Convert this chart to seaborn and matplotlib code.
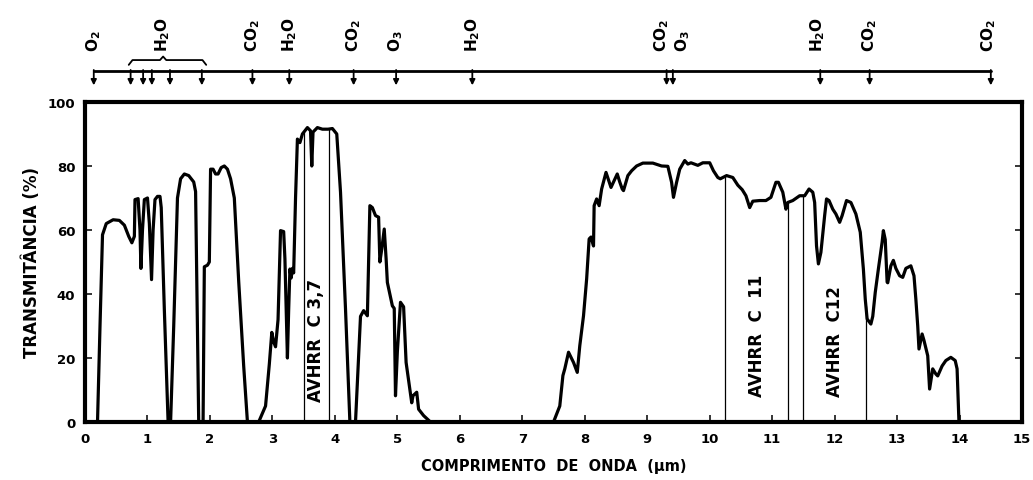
import numpy as np
import pandas as pd
import matplotlib
matplotlib.use("Agg")
import matplotlib.pyplot as plt
import seaborn as sns

# Atmospheric transmittance spectrum (wavelength in µm, transmittance in %)
wavelength_um = [
    0.00, 0.20, 0.24, 0.28, 0.34, 0.45, 0.55, 0.63, 0.70, 0.75, 0.79, 0.80,
    0.85, 0.88, 0.895, 0.92, 0.95, 1.00, 1.03, 1.065, 1.09, 1.12, 1.16, 1.20,
    1.22, 1.27, 1.33, 1.37, 1.42, 1.48, 1.53, 1.59, 1.66, 1.74, 1.77, 1.80,
    1.82, 1.89, 1.91, 1.96, 1.99, 2.01, 2.05, 2.09, 2.13, 2.18, 2.23, 2.28,
    2.33, 2.39, 2.46, 2.54, 2.60, 2.78, 2.89, 2.95, 2.99, 3.02, 3.05, 3.09,
    3.13, 3.18, 3.20, 3.24, 3.26, 3.28, 3.30, 3.32, 3.34, 3.37, 3.40, 3.44,
    3.48, 3.56, 3.61, 3.63, 3.65, 3.72, 3.80, 3.89, 3.96, 4.03, 4.09, 4.17,
    4.24, 4.33, 4.41, 4.46, 4.52, 4.56, 4.60, 4.65, 4.70, 4.72, 4.75, 4.79,
    4.82, 4.84, 4.92, 4.95, 4.97, 5.00, 5.05, 5.10, 5.14, 5.18, 5.23, 5.25,
    5.31, 5.34, 5.42, 5.53, 7.50, 7.60, 7.65, 7.68, 7.74, 7.82, 7.88, 7.92,
    7.98, 8.03, 8.07, 8.10, 8.14, 8.15, 8.19, 8.23, 8.27, 8.34, 8.42, 8.52,
    8.56, 8.60, 8.62, 8.69, 8.75, 8.83, 8.93, 9.09, 9.23, 9.33, 9.39, 9.42,
    9.47, 9.52, 9.60, 9.65, 9.70, 9.81, 9.89, 10.00, 10.06, 10.13, 10.17,
    10.27, 10.37, 10.45, 10.52, 10.58, 10.64, 10.69, 10.80, 10.90, 10.98,
    11.06, 11.10, 11.17, 11.22, 11.25, 11.33, 11.44, 11.52, 11.59, 11.65,
    11.68, 11.71, 11.74, 11.78, 11.84, 11.87, 11.91, 11.97, 12.02, 12.08,
    12.12, 12.19, 12.26, 12.34, 12.41, 12.46, 12.49, 12.52, 12.58, 12.61,
    12.65, 12.70, 12.76, 12.78, 12.81, 12.84, 12.85, 12.90, 12.94, 12.98,
    13.04, 13.09, 13.14, 13.22, 13.27, 13.30, 13.33, 13.35, 13.40, 13.43,
    13.49, 13.52, 13.57, 13.62, 13.65, 13.72, 13.78, 13.86, 13.93, 13.96,
    13.99, 15.00,
]
transmittance_pct = [
    0, 0, 30, 58.5, 62, 63.2, 63, 61.5, 58, 56, 58, 69.5,
    69.8, 60, 48, 60, 69.5, 70, 62, 44.5, 60, 69.5, 70.5, 70.5,
    67, 35, 0, 0, 30, 70, 76, 77.5, 77, 75, 72, 30,
    0, 0, 48.5, 49, 50, 79, 79, 77.5, 77.5, 79.5, 80, 79,
    76, 70, 44, 17.5, 0, 0, 5, 18, 28, 25, 23.5, 32,
    59.8, 59.5, 51, 20, 35, 47.8, 45, 48, 46.6, 70, 88.4, 87.3,
    90, 92, 91, 80, 90.6, 92, 91.5, 91.5, 91.7, 90, 71.8, 35.3,
    0, 0, 33, 34.8, 33.2, 67.6, 67, 64.5, 64, 50, 54, 60.3,
    51, 43.6, 36.3, 35.5, 8.2, 22, 37.4, 36, 18.6, 13, 6, 8.2,
    9.3, 4, 2, 0, 0, 5, 14.5, 16.6, 21.8, 18.6, 15.5, 23.8,
    33.2, 44.7, 57.2, 57.8, 55, 67.6, 69.7, 67.6, 72.8, 78, 73.3, 77.5,
    75, 72.8, 72.3, 77, 78.5, 80, 80.9, 80.9, 80, 79.9, 74.9, 70.2,
    74.9, 79, 81.7, 80.6, 81, 80.2, 81, 81, 78.5, 76.4, 76,
    77, 76.4, 74, 72.6, 70.7, 67, 69, 69.2, 69.2, 70.2,
    74.9, 74.9, 71.8, 66.5, 68.6, 69.2, 70.7, 70.7, 72.8, 71.8,
    68.6, 55, 49.4, 53, 64.5, 69.7, 69.2, 66.5, 65, 62.4,
    64.5, 69.2, 68.6, 65, 59.3, 47.8, 38.4, 32.2, 30.6, 33,
    40.5, 47.8, 56.2, 59.8, 57, 43.7, 43.5, 48.8, 50.5, 48,
    45.7, 45.2, 48, 48.8, 45.7, 38.4, 30, 22.8, 27.5, 25.5,
    20.7, 10.3, 16.6, 15, 14.4, 17.5, 19.2, 20.2, 19.2, 16.6,
    0, 0,
]

# AVHRR channel limits (µm) and their labels
avhrr_edges_um = [3.50, 3.91, 10.25, 11.25, 11.50, 12.50]
avhrr_labels = ["AVHRR  C 3,7", "AVHRR  C  11", "AVHRR  C12"]
avhrr_label_x = [3.70, 10.75, 12.00]
avhrr_label_y = [6.5, 8.0, 8.0]

# Absorption bands marked with arrows above the plot
absorber_x = [0.14, 0.73, 0.93, 1.07, 1.36, 1.87, 2.68, 3.27, 4.30, 4.98,
              6.20, 9.31, 9.41, 11.77, 12.56, 14.50]
gas_labels = [r"$\mathbf{O_2}$", r"$\mathbf{H_2O}$", r"$\mathbf{CO_2}$",
              r"$\mathbf{H_2O}$", r"$\mathbf{CO_2}$", r"$\mathbf{O_3}$",
              r"$\mathbf{H_2O}$", r"$\mathbf{CO_2}$", r"$\mathbf{O_3}$",
              r"$\mathbf{H_2O}$", r"$\mathbf{CO_2}$", r"$\mathbf{CO_2}$"]
gas_label_x = [0.14, 1.25, 2.68, 3.27, 4.30, 4.98, 6.20, 9.23, 9.57,
               11.72, 12.56, 14.47]

x_ticks = list(range(0, 16))
y_ticks = [0, 20, 40, 60, 80, 100]

sns.set_theme(style="ticks")
plt.rcParams["font.family"] = ["DejaVu Sans"]
plt.rcParams["font.weight"] = "bold"
plt.rcParams["text.color"] = "black"
plt.rcParams["axes.labelcolor"] = "black"

df = pd.DataFrame({"wl": wavelength_um, "t": transmittance_pct})

fig = plt.figure(figsize=(10.33, 4.81), dpi=100)
ax = fig.add_axes([0.0823, 0.1206, 0.9071, 0.6653])

sns.lineplot(data=df, x="wl", y="t", estimator=None, sort=False,
             color="black", lw=2.3, ax=ax, clip_on=False)

# Channel boundaries drawn up to the curve
tops = np.interp(avhrr_edges_um, wavelength_um, transmittance_pct)
ax.vlines(avhrr_edges_um, 0, tops, color="black", lw=0.9)
for lx, ly, txt in zip(avhrr_label_x, avhrr_label_y, avhrr_labels):
    ax.text(lx, ly, txt, rotation=90, ha="center", va="bottom",
            fontsize=12, fontweight="bold", color="black")

ax.set_xlim(0, 15)
ax.set_ylim(0, 100)
ax.set_xticks(x_ticks)
ax.set_yticks(y_ticks)
ax.tick_params(axis="both", direction="in", length=5, width=1.1,
               labelsize=9.5, colors="black")
ax.tick_params(axis="x", pad=7)
ax.tick_params(axis="y", pad=7, right=True)
for s in ax.spines.values():
    s.set_visible(True)
    s.set_linewidth(3)
    s.set_color("black")

ax.set_xlabel("COMPRIMENTO  DE  ONDA  (µm)", fontsize=10.5,
              fontweight="bold", color="black")
ax.set_ylabel("TRANSMITÂNCIA (%)", fontsize=12, fontweight="bold",
              color="black")
ax.xaxis.set_label_coords(0.5, -0.112)
ax.yaxis.set_label_coords(-0.047, 0.5)

# Absorption band markers
trans = ax.get_xaxis_transform()
bar_y = 1.097
ax.plot([absorber_x[0], absorber_x[-1]], [bar_y, bar_y], transform=trans,
        color="black", lw=2, clip_on=False, solid_capstyle="round")
for xa in absorber_x:
    ax.annotate("", xy=(xa, 1.052), xycoords=trans, xytext=(xa, bar_y + 0.003),
                textcoords=trans,
                arrowprops=dict(arrowstyle="-|>", color="black", lw=1.3,
                                mutation_scale=8, shrinkA=0, shrinkB=0))

# Brace grouping the near-infrared water vapour bands
brace_x = [0.70, 0.76, 1.20, 1.25, 1.30, 1.88, 1.94]
brace_y = [1.116, 1.131, 1.131, 1.142, 1.131, 1.131, 1.116]
ax.plot(brace_x, brace_y, transform=trans, color="black", lw=1.3,
        clip_on=False)

for gx, gl in zip(gas_label_x, gas_labels):
    ax.text(gx, 1.158, gl, transform=trans, rotation=90, ha="center",
            va="bottom", fontsize=11, color="black")

fig.savefig("out.png", dpi=100)
